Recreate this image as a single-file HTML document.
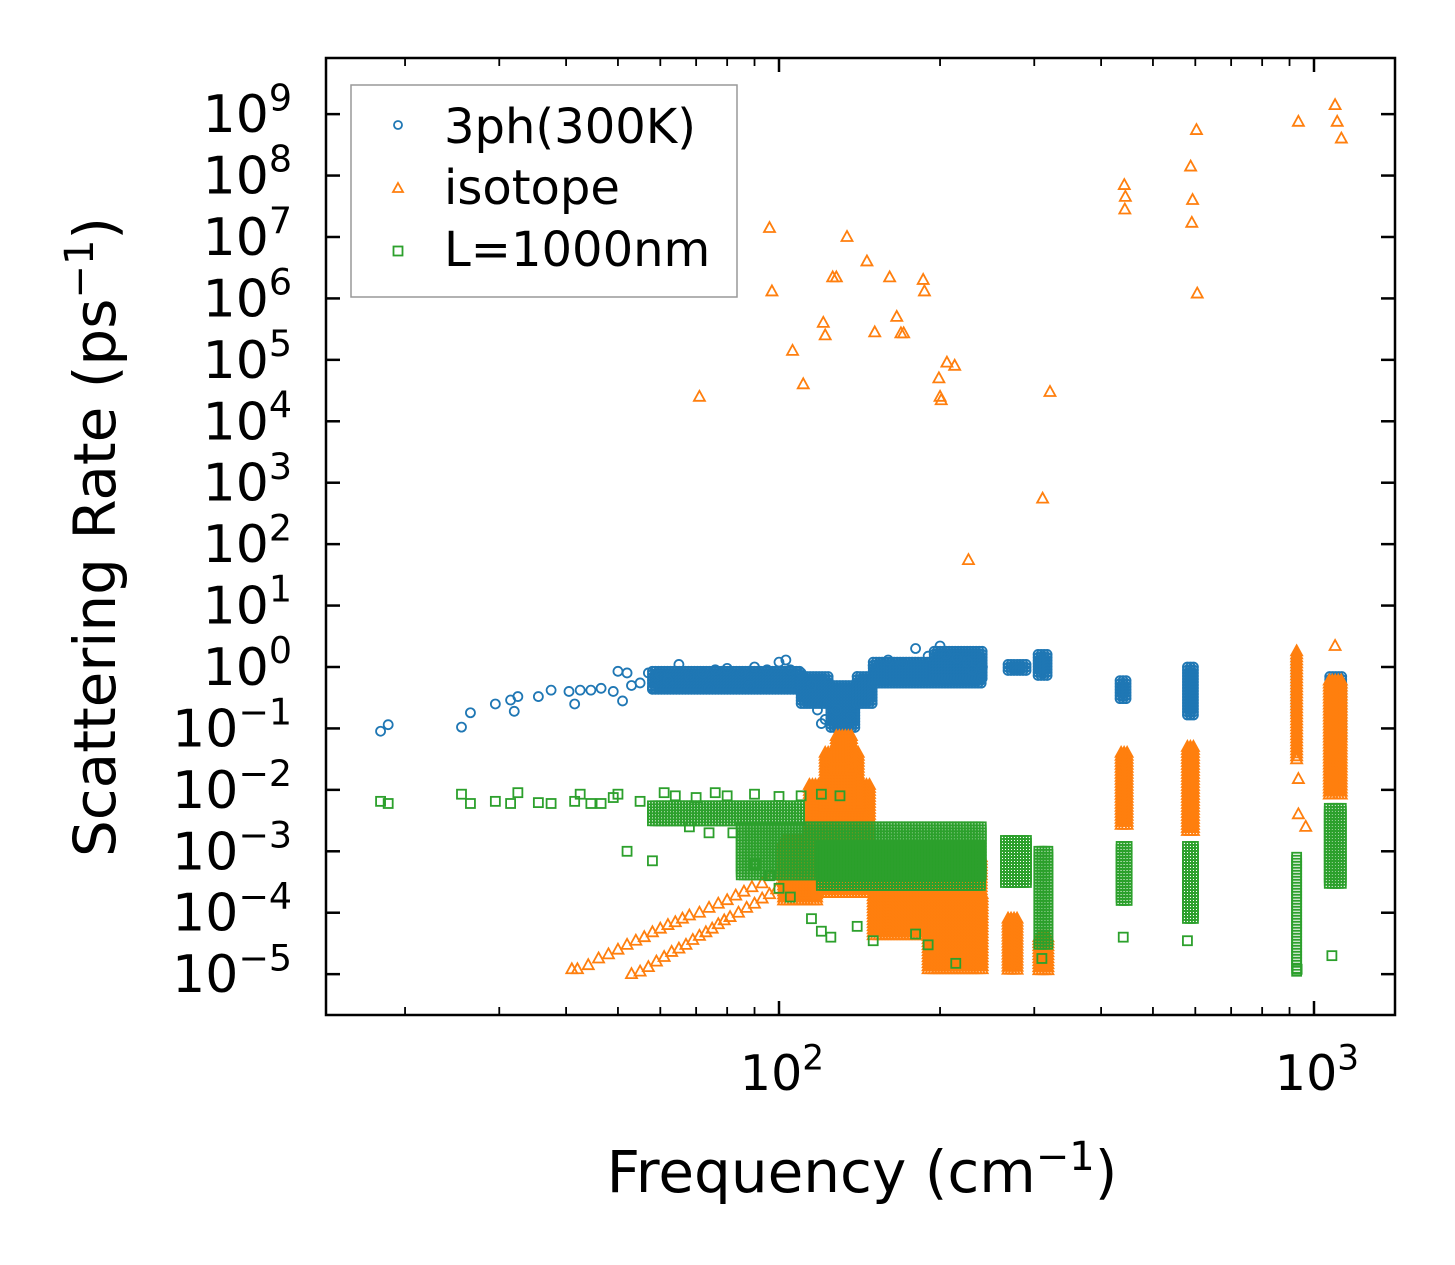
<!DOCTYPE html>
<html><head><meta charset="utf-8"><style>
html,body{margin:0;padding:0;background:#fff;}
svg{display:block;font-family:"DejaVu Sans","Liberation Sans",sans-serif;}
</style></head><body>
<svg id="chart" width="1455" height="1265" viewBox="0 0 1455 1265">
<g id="marks"></g>
<rect x="326" y="58" width="1069" height="957" fill="none" stroke="#000" stroke-width="2.5"/>
<g id="axes"></g>
<text x="862" y="1192" font-size="58" text-anchor="middle">Frequency (cm<tspan dy="-22" font-size="40">−1</tspan><tspan dy="22">)</tspan></text>
<text transform="translate(115,537) rotate(-90)" font-size="58" text-anchor="middle">Scattering Rate (ps<tspan dy="-22" font-size="40">−1</tspan><tspan dy="22">)</tspan></text>
<g>
<rect x="351" y="85" width="386" height="212" fill="#fff" fill-opacity="0.8" stroke="#999" stroke-width="1.5"/>
<circle cx="398" cy="125" r="4" fill="none" stroke="#1f77b4" stroke-width="1.8"/>
<text x="444" y="143" font-size="48">3ph(300K)</text>
<path d="M398,183 L403,192 L393,192 Z" fill="none" stroke="#ff7f0e" stroke-width="1.8"/>
<text x="444" y="204" font-size="48">isotope</text>
<rect x="393.5" y="246.5" width="9" height="9" fill="none" stroke="#2ca02c" stroke-width="1.8"/>
<text x="444" y="266" font-size="48">L=1000nm</text>
</g>
</svg>
<script>
// axis config
const xDecadeTicks = [2, 3];
const yDecadeTicks = [-5,-4,-3,-2,-1,0,1,2,3,4,5,6,7,8,9];

// 3ph scatter points [freq, rate]
const phPoints = [[18,0.09],[18.6,0.115],[25.5,0.105],[26.5,0.18],[29.5,0.25],[31.5,0.29],[32,0.19],[32.5,0.33],[35.5,0.33],[37.5,0.42],[40.5,0.4],[41.5,0.25],[42.5,0.42],[44.5,0.42],[46.5,0.45],[49,0.4],[50,0.85],[51,0.28],[52,0.8],[53,0.5],[55,0.55],[57,0.8],[58,0.45],[60,0.75],[62,0.6],[65,1.1],[68,0.7],[72,0.8],[74,0.45],[76,0.9],[80,0.95],[85,0.8],[88,0.5],[90,1.0],[95,0.9],[100,1.2],[103,1.3],[105,0.9],[110,0.8],[115,0.5],[118,0.2],[120,0.12],[122,0.14],[128,0.2],[133,0.1],[136,0.15],[140,0.7],[150,1.05],[160,1.3],[170,1.15],[180,2.0],[190,1.5],[200,2.2],[205,1.6],[215,1.4],[225,1.2],[230,0.9],[240,1.0]];
// 3ph dense clusters [fLow, fHigh, rLow, rHigh]
const phClusters = [[58,110,0.4,0.85],[110,125,0.25,0.7],[125,140,0.1,0.5],[140,150,0.25,0.7],[150,240,0.5,1.2],[195,240,0.6,1.8],[268,292,0.85,1.1],[305,318,0.7,1.6],[434,450,0.3,0.6],[580,598,0.15,1.0],[926,934,0.15,1.3],[1070,1130,0.06,0.7]];

// isotope scatter points
const isoPoints = [[71,2.5e4],[96,1.4e7],[97,1.3e6],[106,1.4e5],[111,4e4],[121,4e5],[122,2.5e5],[126,2.2e6],[128,2.2e6],[134,1e7],[146,4e6],[151,2.8e5],[161,2.2e6],[166,5e5],[169,2.7e5],[171,2.7e5],[186,2e6],[187,1.3e6],[199,5e4],[200,2.5e4],[201,2.2e4],[206,9e4],[213,8e4],[226,55],[311,550],[321,3e4],[442,7e7],[444,4.5e7],[443,2.8e7],[588,1.4e8],[593,4e7],[591,1.7e7],[603,5.5e8],[605,1.2e6],[935,7.5e8],[1095,1.4e9],[1105,7.5e8],[1125,4e8],[1095,2.2],[935,0.004],[935,0.015],[583,0.004],[965,0.0025],
[41,1.2e-5],[42,1.2e-5],[44,1.4e-5],[46,1.8e-5],[48,2.1e-5],[50,2.5e-5],[52,3e-5],[54,3.5e-5],[56,4e-5],[58,4.8e-5],[60,5.5e-5],[62,6.3e-5],[64,7e-5],[66,8e-5],[68,9e-5],[71,1e-4],[74,1.2e-4],[77,1.4e-4],[80,1.6e-4],[83,1.9e-4],[86,2.2e-4],[89,2.6e-4],[93,3e-4],[97,4e-4],
[53,1e-5],[55,1.1e-5],[57,1.3e-5],[59,1.6e-5],[61,1.9e-5],[63,2.3e-5],[65,2.6e-5],[67,3e-5],[69,3.6e-5],[71,4.2e-5],[73,4.8e-5],[75,5.5e-5],[77,6.5e-5],[79,7.5e-5],[81,8.5e-5],[84,1e-4],[87,1.2e-4],[90,1.4e-4],[93,1.7e-4],[96,2e-4],[99,2.4e-4]];
// isotope dense clusters
const isoClusters = [[114,148,2e-4,0.012],[122,142,0.005,0.04],[128,138,0.02,0.075],[102,118,1.5e-4,1.5e-3],[150,240,4e-5,8e-4],[190,240,1.2e-5,2e-4],[268,280,1.1e-5,8e-5],[306,318,1.1e-5,4e-5],[436,450,2.5e-3,0.04],[580,600,2e-3,0.05],[928,936,0.03,1.8],[1068,1130,0.008,0.6]];

// boundary scatter points
const bndPoints = [[18,0.0065],[18.6,0.006],[25.5,0.0085],[26.5,0.006],[29.5,0.0065],[31.5,0.006],[32.5,0.009],[35.5,0.0062],[37.5,0.006],[41.5,0.0065],[42.5,0.0085],[44.5,0.006],[46.5,0.006],[49,0.0075],[50,0.0085],[52,0.001],[55,0.0065],[58,0.0007],[61,0.009],[64,0.008],[70,0.0075],[76,0.009],[80,0.008],[90,0.0085],[100,0.0078],[110,0.008],[120,0.0085],[130,0.008],[68,0.0025],[74,0.002],[82,0.002],[90,0.0006],[96,0.0004],[100,0.00025],[105,0.00018],[115,8e-5],[120,5e-5],[125,4e-5],[140,6e-5],[150,3.5e-5],[180,4.5e-5],[190,3e-5],[214,1.5e-5],[310,1.8e-5],[440,4e-5],[580,3.5e-5],[930,1.2e-5],[1080,2e-5]];
// boundary dense clusters
const bndClusters = [[58,110,3e-3,5.5e-3],[85,240,4e-4,2.5e-3],[120,240,2.5e-4,1.2e-3],[265,292,3e-4,1.5e-3],[306,318,3e-5,1e-3],[436,450,1.5e-4,1.2e-3],[580,600,8e-5,1.2e-3],[928,936,1.1e-5,8e-4],[1068,1130,3e-4,5e-3]];

const X0 = 779, XD = 535, Y0 = 667, YD = 61.43;
const NS = 'http://www.w3.org/2000/svg';
function xs(f){ return X0 + XD*(Math.log10(f)-2); }
function ys(r){ return Y0 - YD*Math.log10(r); }
const marks = document.getElementById('marks');
const axes = document.getElementById('axes');

function marker(kind, x, y, color){
  let el;
  if(kind==='c'){ el=document.createElementNS(NS,'circle'); el.setAttribute('cx',x); el.setAttribute('cy',y); el.setAttribute('r',4.5); }
  else if(kind==='t'){ el=document.createElementNS(NS,'path'); el.setAttribute('d',`M${x},${y-6} L${x+5.5},${y+4} L${x-5.5},${y+4} Z`); }
  else { el=document.createElementNS(NS,'rect'); el.setAttribute('x',x-4.5); el.setAttribute('y',y-4.5); el.setAttribute('width',9); el.setAttribute('height',9); }
  el.setAttribute('fill','none'); el.setAttribute('stroke',color); el.setAttribute('stroke-width',1.8);
  return el;
}
function drawSeries(name, kind, color, pts, clusters){
  const g=document.createElementNS(NS,'g');
  
  
  clusters.forEach(c=>{
    const x1=xs(c[0]), x2=xs(c[1]), y1=ys(c[3]), y2=ys(c[2]);
    for(let x=x1; x<=x2+0.1; x+=3){
      for(let y=y1; y<=y2+0.1; y+=3){
        const m=marker(kind,x,y,color);
        
        
        g.appendChild(m);
      }
    }
  });
  pts.forEach(p=>{
    const m=marker(kind,xs(p[0]),ys(p[1]),color);
    
    
    g.appendChild(m);
  });
  marks.appendChild(g);
}
drawSeries('3ph','c','#1f77b4',phPoints,phClusters);
drawSeries('isotope','t','#ff7f0e',isoPoints,isoClusters);
drawSeries('boundary','s','#2ca02c',bndPoints,bndClusters);

function line(x1,y1,x2,y2,w,name){
  const l=document.createElementNS(NS,'line');
  l.setAttribute('x1',x1);l.setAttribute('y1',y1);l.setAttribute('x2',x2);l.setAttribute('y2',y2);
  l.setAttribute('stroke','#000');l.setAttribute('stroke-width',w);
  
  
  axes.appendChild(l);
}
function sup(x,y,base,exp,anchor,name,fs){
  const t=document.createElementNS(NS,'text');
  t.setAttribute('x',x);t.setAttribute('y',y);t.setAttribute('font-size',fs);t.setAttribute('text-anchor',anchor);
  
  
  t.innerHTML=base+'<tspan dy="'+(-fs*0.42)+'" font-size="'+(fs*0.7)+'">'+exp+'</tspan>';
  axes.appendChild(t);
}
// x ticks
for(let d=1; d<=3; d++){
  for(let k=1;k<=9;k++){
    const f=k*Math.pow(10,d); const x=xs(f);
    if(x<326||x>1395) continue;
    const major=(k===1);
    line(x,1015,x,1015-(major?14:8),major?2.5:1.8,'x-tick');
    line(x,58,x,58+(major?14:8),major?2.5:1.8,'x-tick-top');
  }
}
xDecadeTicks.forEach(e=>{ sup(xs(Math.pow(10,e))+3,1090,'10',String(e),'middle','x-tick-label',49); });
yDecadeTicks.forEach(e=>{
  const y=ys(Math.pow(10,e));
  line(326,y,340,y,2.5,'y-tick');
  line(1395,y,1381,y,2.5,'y-tick-right');
  sup(292,y+18,'10',e<0?'−'+(-e):String(e),'end','y-tick-label',52);
});
</script>
</body></html>
